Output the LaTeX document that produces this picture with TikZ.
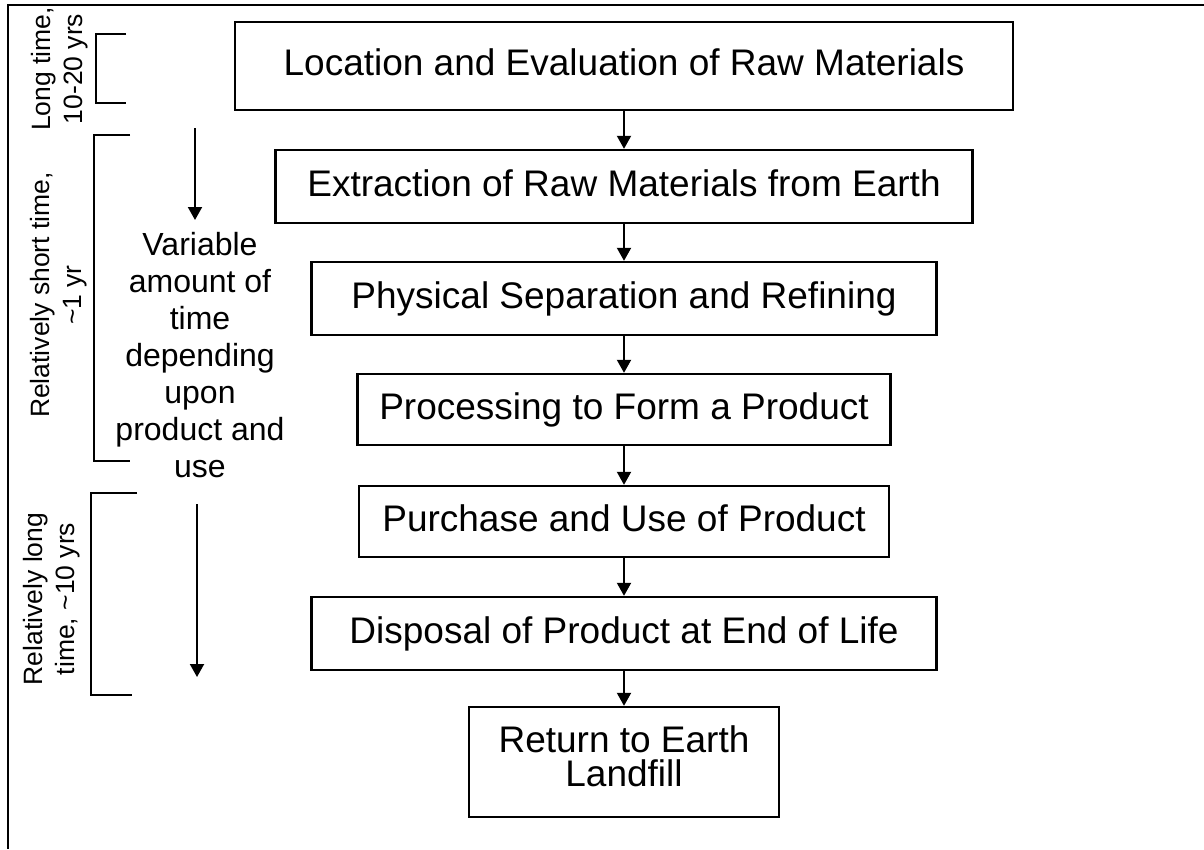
\documentclass[tikz,border=0pt]{standalone}
\usepackage{fontspec}
\setmainfont{Liberation Sans}
\usetikzlibrary{arrows.meta}
\begin{document}
\begin{tikzpicture}[x=1pt,y=-1pt,
  line width=2.4pt,
  stagebase/.style={draw, line width=2.4pt, inner sep=0pt, align=center,
    font=\fontsize{37}{34}\selectfont},
  stage/.style={stagebase, text height=27pt, text depth=8pt},
  flow/.style={-{Triangle[length=13pt,width=14pt]}, line width=2pt},
  note/.style={font=\fontsize{32}{37}\selectfont, align=center, inner sep=0pt},
  span/.style={font=\fontsize{26.5}{32}\selectfont, align=center, rotate=90, inner sep=0pt},
  bracket/.style={line width=2.2pt}]
\useasboundingbox (0,0) rectangle (1204,849);

% frame: top and left edges
\draw (1204,5) -- (8,5) -- (8,849);

% process stages
\node[stage, minimum width=778pt, minimum height=88pt] (b1) at (624,66)
  {Location and Evaluation of Raw Materials};
\node[stage, minimum width=697pt, minimum height=73pt] (b2) at (624,186.5)
  {Extraction of Raw Materials from Earth};
\node[stage, minimum width=625pt, minimum height=73pt] (b3) at (624,298.5)
  {Physical Separation and Refining};
\node[stage, minimum width=533pt, minimum height=71pt] (b4) at (624,409.5)
  {Processing to Form a Product};
\node[stage, minimum width=530pt, minimum height=71pt] (b5) at (624,521.5)
  {Purchase and Use of Product};
\node[stage, minimum width=625pt, minimum height=73pt] (b6) at (624,633.5)
  {Disposal of Product at End of Life};
\node[stagebase, minimum width=310pt, minimum height=110pt] (b7) at (624,762)
  {Return to Earth\\Landfill\rule[-12pt]{0pt}{12pt}};

\draw[flow] (b1.south) -- (b2.north);
\draw[flow] (b2.south) -- (b3.north);
\draw[flow] (b3.south) -- (b4.north);
\draw[flow] (b4.south) -- (b5.north);
\draw[flow] (b5.south) -- (b6.north);
\draw[flow] (b6.south) -- (b7.north);

% time brackets
\draw[bracket] (126,34) -- (96,34) -- (96,103) -- (126,103);
\draw[bracket] (130,135) -- (94,135) -- (94,461) -- (130,461);
\draw[bracket] (137,493) -- (91,493) -- (91,695) -- (132,695);

\node[span] (t1) at (60,69) {Long time,\\10-20 yrs};
\node[span] (t2) at (59,295) {Relatively short time,\\\textasciitilde 1 yr};
\node[span] (t3) at (52,599) {Relatively long\\time, \textasciitilde 10 yrs};

% variable-time arrows and note
\coordinate (v1s) at (195,128);
\coordinate (v1e) at (195,220);
\coordinate (v2s) at (197,504);
\coordinate (v2e) at (197,677);
\draw[flow] (v1s) -- (v1e);
\draw[flow] (v2s) -- (v2e);

\node[note] (var) at (200,355.5)
  {Variable\\amount of\\time\\depending\\upon\\product and\\use};
\end{tikzpicture}
\end{document}
